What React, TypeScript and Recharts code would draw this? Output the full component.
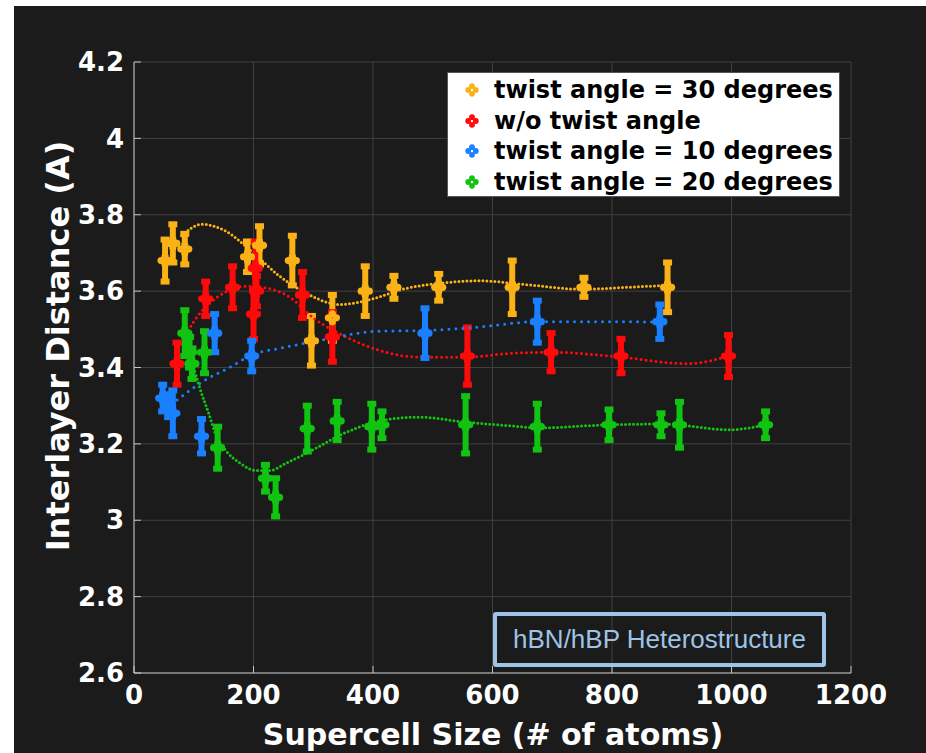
import {
  ComposedChart,
  Scatter,
  Line,
  XAxis,
  YAxis,
  CartesianGrid,
  ErrorBar,
  Label,
} from "recharts";

// ---------------------------------------------------------------------------
// Data
// ---------------------------------------------------------------------------

const seriesNames = [
  "twist angle = 30 degrees",
  "w/o twist angle",
  "twist angle = 10 degrees",
  "twist angle = 20 degrees",
];
const seriesColors = ["#fbb217", "#ff0a0a", "#1a80ff", "#12c412"];
const fitDash = ["0 4", "0 5", "0 7", "0 4"];

const xTicks = [0, 200, 400, 600, 800, 1000, 1200];
const yTicks = [2.6, 2.8, 3, 3.2, 3.4, 3.6, 3.8, 4, 4.2];
const yTickLabels = ["2.6", "2.8", "3", "3.2", "3.4", "3.6", "3.8", "4", "4.2"];

// twist angle = 30 degrees
const size30 = [52, 65, 85, 190, 210, 265, 297, 332, 387, 435, 510, 633, 753, 893];
const dist30 = [3.68, 3.725, 3.71, 3.69, 3.72, 3.68, 3.47, 3.53, 3.6, 3.61, 3.61, 3.61, 3.61, 3.61];
const err30 = [0.055, 0.05, 0.04, 0.04, 0.05, 0.065, 0.065, 0.06, 0.065, 0.03, 0.035, 0.07, 0.025, 0.065];
const fitX30 = [80, 113, 150, 200, 243, 282, 345, 400, 450, 520, 580, 650, 750, 850, 893];
const fitY30 = [3.745, 3.775, 3.76, 3.7, 3.64, 3.6, 3.565, 3.58, 3.605, 3.622, 3.627, 3.618, 3.605, 3.612, 3.615];

// w/o twist angle
const sizeNo = [72, 120, 165, 203, 205, 200, 282, 332, 558, 698, 815, 995];
const distNo = [3.41, 3.58, 3.61, 3.66, 3.6, 3.54, 3.59, 3.48, 3.43, 3.44, 3.43, 3.43];
const errNo = [0.055, 0.045, 0.055, 0.07, 0.04, 0.065, 0.06, 0.065, 0.075, 0.05, 0.045, 0.055];
const fitXNo = [75, 100, 140, 190, 215, 260, 300, 355, 410, 480, 555, 630, 700, 815, 925, 995];
const fitYNo = [3.45, 3.52, 3.585, 3.613, 3.61, 3.585, 3.53, 3.48, 3.445, 3.427, 3.427, 3.437, 3.44, 3.427, 3.41, 3.43];

// twist angle = 10 degrees
const size10 = [48, 58, 65, 113, 135, 197, 487, 675, 880];
const dist10 = [3.32, 3.3, 3.28, 3.22, 3.49, 3.43, 3.49, 3.52, 3.52];
const err10 = [0.035, 0.03, 0.06, 0.045, 0.05, 0.04, 0.065, 0.055, 0.045];
const fitX10 = [72, 122, 160, 197, 243, 298, 410, 487, 577, 675, 788, 880];
const fitY10 = [3.315, 3.37, 3.4, 3.433, 3.45, 3.467, 3.495, 3.497, 3.506, 3.52, 3.52, 3.519];

// twist angle = 20 degrees
const size20 = [85, 93, 97, 118, 140, 220, 237, 290, 340, 398, 415, 555, 675, 795, 882, 913, 1057];
const dist20 = [3.49, 3.44, 3.41, 3.44, 3.19, 3.11, 3.06, 3.24, 3.26, 3.245, 3.25, 3.25, 3.245, 3.25, 3.25, 3.25, 3.25];
const err20 = [0.06, 0.04, 0.04, 0.055, 0.055, 0.035, 0.05, 0.06, 0.05, 0.06, 0.035, 0.075, 0.06, 0.04, 0.03, 0.06, 0.035];
const fitX20 = [100, 110, 125, 138, 155, 177, 205, 227, 255, 282, 355, 410, 477, 555, 632, 677, 795, 882, 998, 1057];
const fitY20 = [3.4, 3.347, 3.28, 3.22, 3.18, 3.15, 3.13, 3.13, 3.15, 3.17, 3.23, 3.26, 3.27, 3.257, 3.247, 3.242, 3.25, 3.252, 3.237, 3.25];

// ---------------------------------------------------------------------------

const toPoints = (xs: number[], ys: number[], es?: number[]) =>
  xs.map((x, i) => ({ x, y: ys[i], e: es ? es[i] : 0 }));

const groups = [
  { pts: toPoints(size30, dist30, err30), fit: toPoints(fitX30, fitY30) },
  { pts: toPoints(sizeNo, distNo, errNo), fit: toPoints(fitXNo, fitYNo) },
  { pts: toPoints(size10, dist10, err10), fit: toPoints(fitX10, fitY10) },
  { pts: toPoints(size20, dist20, err20), fit: toPoints(fitX20, fitY20) },
];

const FONT = "'DejaVu Sans', sans-serif";
const AXIS_COLOR = "#c4c4c4";
const BG = "#1b1b1b";

function Flower({ cx, cy, fill, d = 4, r = 3.6 }: any) {
  if (cx == null || cy == null) return null;
  const offs = [
    [d, 0],
    [-d, 0],
    [0, d],
    [0, -d],
  ];
  return (
    <g>
      {offs.map(([dx, dy], i) => (
        <circle key={i} cx={cx + dx} cy={cy + dy} r={r} fill={fill} />
      ))}
    </g>
  );
}

const emptyTick = () => <g />;

export default function App() {
  return (
    <div style={{ position: "absolute", left: 0, top: 0, width: 926, height: 753, background: "#fff" }}>
      <div style={{ position: "absolute", left: 14, top: 6, width: 912, height: 747, background: BG }}>
        <ComposedChart
          width={912}
          height={747}
          margin={{ top: 56, right: 75, bottom: 0, left: 0 }}
        >
          <CartesianGrid stroke="#404040" strokeWidth={1} />
          <XAxis
            type="number"
            dataKey="x"
            domain={[0, 1200]}
            ticks={xTicks}
            allowDataOverflow
            height={80}
            stroke={AXIS_COLOR}
            tickSize={-7}
            tickMargin={20}
            tick={{ fill: "#fff", fontSize: 26, fontWeight: 700, fontFamily: FONT }}
          >
            <Label
              content={() => (
                <text
                  x={479}
                  y={739}
                  textAnchor="middle"
                  fill="#fff"
                  fontSize={30}
                  fontWeight={700}
                  fontFamily={FONT}
                >
                  Supercell Size (# of atoms)
                </text>
              )}
            />
          </XAxis>
          <XAxis
            xAxisId="top"
            orientation="top"
            type="number"
            dataKey="x"
            domain={[0, 1200]}
            ticks={xTicks}
            mirror
            height={0}
            stroke={AXIS_COLOR}
            tickSize={7}
            tick={emptyTick}
          />
          <YAxis
            type="number"
            domain={[2.6, 4.2]}
            ticks={yTicks}
            allowDataOverflow
            width={120}
            stroke={AXIS_COLOR}
            tickSize={-7}
            tickMargin={17}
            tickFormatter={(v: number) => yTickLabels[yTicks.indexOf(v)] ?? String(v)}
            tick={{ fill: "#fff", fontSize: 26, fontWeight: 700, fontFamily: FONT }}
          >
            <Label
              content={() => (
                <text
                  x={44}
                  y={340}
                  transform="rotate(-90 44 340)"
                  textAnchor="middle"
                  dominantBaseline="central"
                  fill="#fff"
                  fontSize={32}
                  fontWeight={700}
                  fontFamily={FONT}
                >
                  Interlayer Distance (A)
                </text>
              )}
            />
          </YAxis>
          <YAxis
            yAxisId="right"
            orientation="right"
            type="number"
            domain={[2.6, 4.2]}
            ticks={yTicks}
            mirror
            width={0}
            stroke={AXIS_COLOR}
            tickSize={7}
            tick={emptyTick}
          />

          {groups.map((g, i) => [
            <Scatter
              key={`pts-${i}`}
              name={seriesNames[i]}
              data={g.pts}
              dataKey="y"
              fill={seriesColors[i]}
              shape={(p: any) => <Flower cx={p.cx} cy={p.cy} fill={seriesColors[i]} />}
              isAnimationActive={false}
            >
              <ErrorBar
                dataKey="e"
                direction="y"
                width={4.5}
                strokeWidth={6}
                stroke={seriesColors[i]}
                isAnimationActive={false}
              />
            </Scatter>,
            <Line
              key={`fit-${i}`}
              data={g.fit}
              dataKey="y"
              type="monotone"
              stroke={seriesColors[i]}
              strokeWidth={3}
              strokeDasharray={fitDash[i]}
              strokeLinecap="round"
              dot={false}
              activeDot={false}
              legendType="none"
              isAnimationActive={false}
            />,
          ])}
        </ComposedChart>

        {/* legend */}
        <div
          style={{
            position: "absolute",
            left: 433,
            top: 66,
            width: 393,
            height: 125,
            boxSizing: "border-box",
            background: "#fff",
            border: "1px solid #555",
            paddingTop: 2,
          }}
        >
          {seriesNames.map((name, i) => (
            <div
              key={name}
              style={{
                display: "flex",
                alignItems: "center",
                height: 30.5,
                fontFamily: FONT,
                fontWeight: 700,
                fontSize: 24,
                color: "#000",
                whiteSpace: "nowrap",
              }}
            >
              <svg width={46} height={30} style={{ flex: "none" }}>
                <Flower cx={24} cy={15} fill={seriesColors[i]} d={3.8} r={2.9} />
              </svg>
              <span>{name}</span>
            </div>
          ))}
        </div>

        {/* annotation */}
        <div
          style={{
            position: "absolute",
            left: 479,
            top: 606,
            width: 333,
            height: 55,
            boxSizing: "border-box",
            border: "4px solid #9dc3e6",
            borderRadius: 3,
            display: "flex",
            alignItems: "center",
            justifyContent: "center",
            color: "#9dc3e6",
            fontFamily: "'Liberation Sans', Arial, sans-serif",
            fontSize: 26,
          }}
        >
          hBN/hBP Heterostructure
        </div>
      </div>
    </div>
  );
}
